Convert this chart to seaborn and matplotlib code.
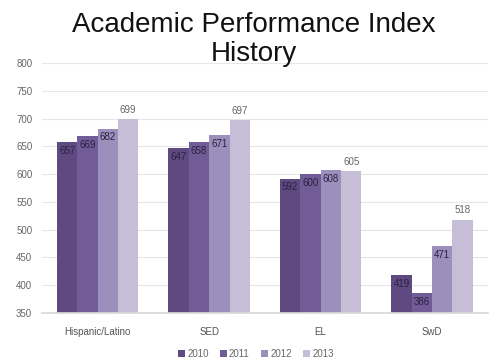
import matplotlib
matplotlib.use("Agg")
import matplotlib.pyplot as plt
import seaborn as sns
import pandas as pd

categories = ["Hispanic/Latino", "SED", "EL", "SwD"]
years = ["2010", "2011", "2012", "2013"]
v2010 = [657, 647, 592, 419]
v2011 = [669, 658, 600, 386]
v2012 = [682, 671, 608, 471]
v2013 = [699, 697, 605, 518]
colors = ["#5e4a80", "#715c98", "#9d8fbb", "#c6bed7"]

series = [v2010, v2011, v2012, v2013]
rows = []
for y, vals in zip(years, series):
    for c, v in zip(categories, vals):
        rows.append({"cat": c, "year": y, "value": v})
df = pd.DataFrame(rows)

sns.set_theme(style="white")
plt.rcParams["font.family"] = ["Liberation Sans", "DejaVu Sans"]

fig = plt.figure(figsize=(4.91, 3.6), dpi=100)
ax = fig.add_axes([0.0855, 0.1306, 0.908, 0.6944])
sns.barplot(data=df, x="cat", y="value", hue="year", palette=colors,
            width=0.73, saturation=1, ax=ax, legend=True, edgecolor="none")

ax.set_ylim(350, 800)
ax.set_yticks(range(350, 801, 50))
ax.set_xlim(-0.5, 3.5)
ax.yaxis.grid(True, color="#e6e6e6", linewidth=0.8)
ax.set_axisbelow(True)
for s in ["top", "right", "left"]:
    ax.spines[s].set_visible(False)
ax.spines["bottom"].set_color("#d9d9d9")
ax.tick_params(axis="y", labelsize=7, labelcolor="#666666", length=0, pad=7)
ax.tick_params(axis="x", labelsize=7, labelcolor="#555555", length=0, pad=10)
ax.set_xlabel("")
ax.set_ylabel("")

for i, cont in enumerate(ax.containers):
    if i == 3:
        ax.bar_label(cont, labels=[str(v) for v in series[i]], padding=3,
                     fontsize=7, color="#666666")
    else:
        ax.bar_label(cont, labels=[str(v) for v in series[i]], label_type="edge",
                     padding=-10, fontsize=7, color="#2b2140")

leg = ax.legend(loc="upper center", bbox_to_anchor=(0.48, -0.11), ncol=4,
                frameon=False, fontsize=7, handlelength=0.7, handleheight=0.7,
                handletextpad=0.2, columnspacing=1.2)
for t in leg.get_texts():
    t.set_color("#666666")

fig.text(0.517, 0.966, "Academic Performance Index\nHistory", ha="center", va="top",
         fontsize=20, color="#111111", linespacing=1.12)

fig.savefig("out.png", dpi=100, facecolor="white")
